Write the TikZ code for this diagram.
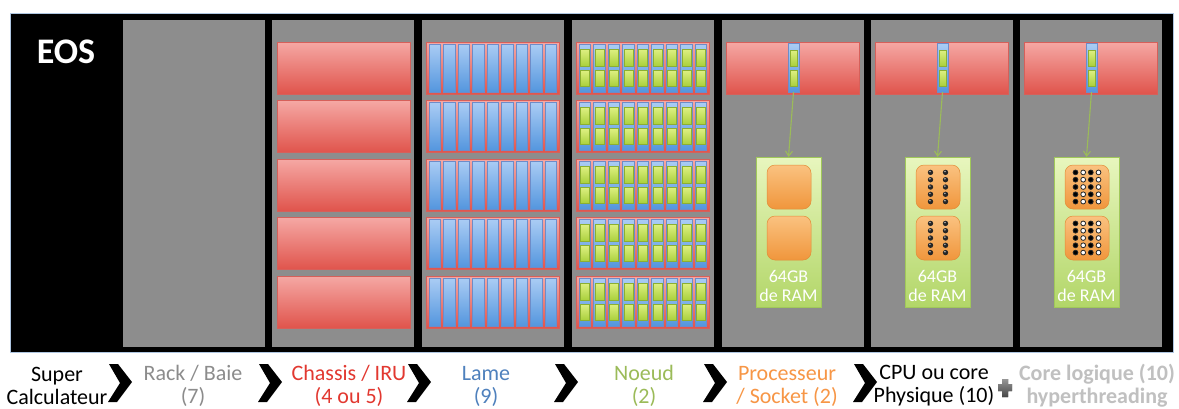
\documentclass[tikz,border=0pt]{standalone}
\usepackage{fontspec}
\setmainfont{Carlito}
\usetikzlibrary{arrows.meta}
\definecolor{panelgray}{RGB}{141,141,141}
\definecolor{framebd}{RGB}{175,198,225}
\definecolor{redtop}{RGB}{245,168,164}
\definecolor{redbot}{RGB}{224,84,76}
\definecolor{redline}{RGB}{214,96,90}
\definecolor{bluetop}{RGB}{170,204,244}
\definecolor{bluebot}{RGB}{84,150,222}
\definecolor{blueline}{RGB}{110,140,200}
\definecolor{greentop}{RGB}{222,240,130}
\definecolor{greenbot}{RGB}{170,208,60}
\definecolor{greenline}{RGB}{140,175,50}
\definecolor{ramtop}{RGB}{232,246,190}
\definecolor{rambot}{RGB}{178,214,104}
\definecolor{ramline}{RGB}{160,200,90}
\definecolor{orangetop}{RGB}{250,194,128}
\definecolor{orangebot}{RGB}{240,150,60}
\definecolor{orangeline}{RGB}{225,140,55}
\definecolor{arrowgreen}{RGB}{155,187,89}
\definecolor{txtgray}{RGB}{140,140,140}
\definecolor{txtred}{RGB}{226,56,48}
\definecolor{txtblue}{RGB}{79,129,189}
\definecolor{txtgreen}{RGB}{155,187,89}
\definecolor{txtorange}{RGB}{247,150,70}
\definecolor{txtlight}{RGB}{192,192,192}
\definecolor{plustop}{RGB}{150,150,150}
\definecolor{plusbot}{RGB}{70,70,70}
\tikzset{
  box/.style={rectangle, inner sep=0pt, outer sep=0pt, anchor=north west},
  panel/.style={box, fill=panelgray, minimum width=142pt, minimum height=327pt},
  redbox/.style={box, draw=redline, line width=0.6pt, top color=redtop, bottom color=redbot, minimum width=133pt, minimum height=52pt},
  bluestrip/.style={box, draw=blueline, line width=0.4pt, top color=bluetop, bottom color=bluebot, minimum width=11.5pt, minimum height=48pt},
  blueslot/.style={box, draw=blueline, line width=0.4pt, top color=bluetop, bottom color=bluebot, minimum width=11pt, minimum height=49pt},
  greensq/.style={box, draw=greenline, line width=0.3pt, top color=greentop, bottom color=greenbot, minimum width=9pt},
  rambox/.style={box, draw=ramline, line width=0.5pt, top color=ramtop, bottom color=rambot, minimum width=65pt, minimum height=150pt},
  orsq/.style={box, draw=orangeline, line width=0.5pt, rounded corners=8pt, top color=orangetop, bottom color=orangebot, minimum width=44pt, minimum height=44pt},
  ramtxt/.style={text=white, font=\fontsize{18}{18}\selectfont, inner sep=0pt},
  linkarrow/.style={draw=arrowgreen, line width=1.1pt, -{Straight Barb[length=5pt,width=7pt]}},
  label/.style={align=center, inner sep=0pt, font=\fontsize{22}{23}\selectfont},
  chev/.style={fill=black},
}
\begin{document}
\begin{tikzpicture}[x=1pt,y=-1pt]
\useasboundingbox (0,0) rectangle (1179,408);
\fill[white] (0,0) rectangle (1179,408);
% frame
\node[box, fill=black, draw=framebd, line width=1pt, minimum width=1163pt, minimum height=339pt] (frame) at (10,13) {};
\node[text=white, font=\bfseries\fontsize{36}{36}\selectfont, inner sep=0pt] (eos) at (66,52) {EOS};
% panels
\foreach \L [count=\i] in {123,272,422,572,722,871,1020}
  \node[panel] (p\i) at (\L,20) {};
% chassis
\foreach \t [count=\j] in {42,100.5,159,217.5,276}
  \node[redbox] (ch\j) at (277,\t) {};
% lame
\foreach \t [count=\j] in {42,100.5,159,217.5,276}{
  \node[redbox] (la\j) at (426,\t) {};
  \foreach \k in {0,...,8}
    \node[bluestrip] (la\j-\k) at ({429+14.5*\k},{\t+2}) {};
}
% noeud
\foreach \t [count=\j] in {42,100.5,159,217.5,276}{
  \node[redbox] (no\j) at (576,\t) {};
  \foreach \k in {0,...,8}{
    \node[bluestrip] (no\j-\k) at ({579+14.5*\k},{\t+2}) {};
    \node[greensq, minimum height=17pt] (no\j-\k a) at ({580.25+14.5*\k},{\t+7}) {};
    \node[greensq, minimum height=16pt] (no\j-\k b) at ({580.25+14.5*\k},{\t+28}) {};
  }
}
% processor / cpu / core columns
\foreach \L [count=\c] in {722,871,1020}{
  \node[redbox, minimum width=133pt] (rb\c) at ({\L+4},42) {};
  \node[blueslot] (st\c) at ({\L+66},43) {};
  \node[greensq, minimum width=7pt, minimum height=16pt] (st\c a) at ({\L+68},50) {};
  \node[greensq, minimum width=7pt, minimum height=16pt] (st\c b) at ({\L+68},70) {};
  \node[rambox] (ram\c) at ({\L+34},157) {};
  \node[orsq] (os\c a) at ({\L+45},165) {};
  \node[orsq] (os\c b) at ({\L+45},216) {};
  \node[ramtxt] (gb\c) at ({\L+66.5},276) {64GB};
  \node[ramtxt] (de\c) at ({\L+66.5},295) {de RAM};
  \draw[linkarrow] (st\c.south) -- (ram\c.north);
}
% cpu dots
\foreach \cy in {187,238}
  \foreach \dx in {-7.5,7.5}
    \foreach \dy in {-14.6,-7.3,0,7.3,14.6}{
      \fill[black!85] ({871+67+\dx},{\cy+\dy}) circle (2.7pt);
      \fill[gray!60] ({871+67+\dx-0.6},{\cy+\dy-0.9}) circle (0.9pt);
    }
% core dots
\foreach \cy in {187,238}
  \foreach \dx/\col in {-11.5/black,-3.8/white,3.8/black,11.5/white}
    \foreach \dy in {-14.6,-7.3,0,7.3,14.6}{
      \filldraw[draw=black!85, line width=0.8pt, fill=\col] ({1020+67+\dx},{\cy+\dy}) circle (2.4pt);
    }
% bottom labels
\node[label] (t1) at (57,386) {Super\\Calculateur};
\node[label, text=txtgray] (t2) at (193,386) {Rack / Baie\\(7)};
\node[label, text=txtred] (t3) at (349,386) {Chassis / IRU\\(4 ou 5)};
\node[label, text=txtblue] (t4) at (486,386) {Lame\\(9)};
\node[label, text=txtgreen] (t5) at (644,386) {Noeud\\(2)};
\node[label, text=txtorange] (t6) at (787,386) {Processeur\\/ Socket (2)};
\node[label] (t7) at (934,386) {CPU ou core\\Physique (10)};
\node[label, text=txtlight, font=\bfseries\fontsize{22}{23}\selectfont] (t8) at (1097,386) {Core logique (10)\\hyperthreading};
% chevrons
\foreach \x in {109,259,408,555,704,854}
  \fill[chev] (\x,364) -- (\x+9,364) -- (\x+23,382) -- (\x+8,402) -- (\x-1,402) -- (\x+11,383) -- cycle;
% plus
\fill[top color=plustop, bottom color=plusbot] (1002,379) -- (1008,379) -- (1008,384) -- (1012,384) -- (1012,391) -- (1008,391) -- (1008,397) -- (1002,397) -- (1002,391) -- (998,391) -- (998,384) -- (1002,384) -- cycle;
\end{tikzpicture}
\end{document}
